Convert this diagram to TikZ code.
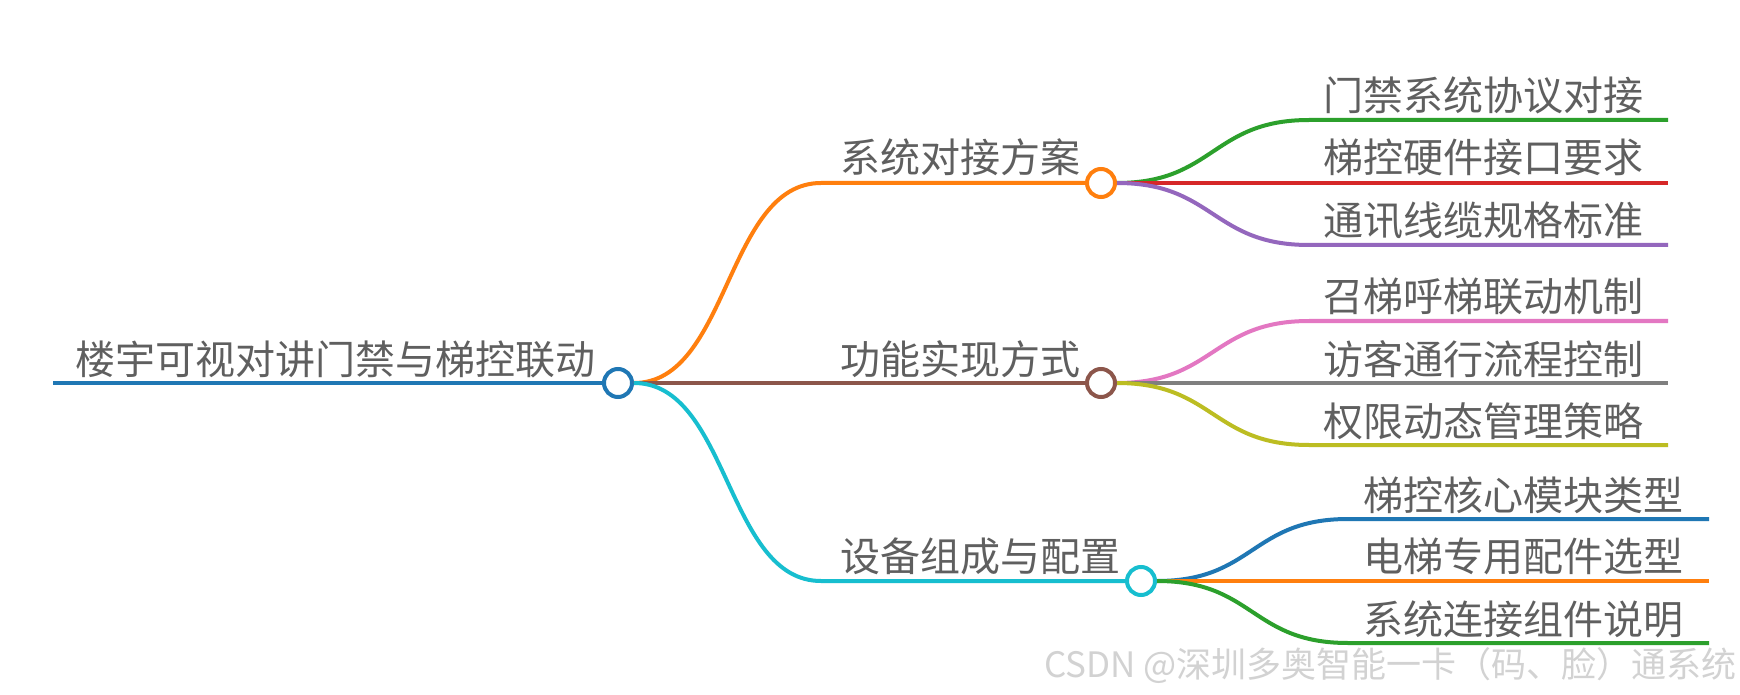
\documentclass[tikz,border=0pt]{standalone}
\usepackage{fontspec}
\setmainfont{Noto Sans CJK SC}
\usepackage{xcolor}
\usepackage{tikz}
\definecolor{mapblue}{HTML}{1F77B4}
\definecolor{maporange}{HTML}{FF7F0E}
\definecolor{mapgreen}{HTML}{2CA02C}
\definecolor{mapred}{HTML}{D62728}
\definecolor{mappurple}{HTML}{9467BD}
\definecolor{mapbrown}{HTML}{8C564B}
\definecolor{mappink}{HTML}{E377C2}
\definecolor{mapgray}{HTML}{7F7F7F}
\definecolor{mapolive}{HTML}{BCBD22}
\definecolor{mapcyan}{HTML}{17BECF}
\definecolor{labelgray}{HTML}{5F5F5F}
\definecolor{markgray}{HTML}{D2D2D2}

\tikzset{
  hub/.style={circle, draw, fill=white, line width=2pt, minimum size=14pt, inner sep=0pt},
  topic/.style={anchor=base west, inner sep=0pt, text=labelgray, font=\fontsize{20}{20}\selectfont},
  link/.style={line width=2pt},
}

\begin{document}
\begin{tikzpicture}[x=0.5pt, y=-0.5pt]
    \path[fill=white, use as bounding box] (0,0) rectangle (1740,695);

    % root
    \coordinate (rootstart) at (53,383);
    \node[hub, draw=mapblue] (root) at (618,383) {};
    \node[topic] (roottext) at (75,374) {楼宇可视对讲门禁与梯控联动};
    \draw[link, mapblue] (rootstart) -- (root.west);

    % first level
    \node[hub, draw=maporange] (sys) at (1101,183) {};
    \node[hub, draw=mapbrown] (fun) at (1101,383) {};
    \node[hub, draw=mapcyan] (dev) at (1141,581) {};
    \coordinate (sysin) at (821,183);
    \coordinate (devin) at (821,581);
    \node[topic] (systext) at (840,173) {系统对接方案};
    \node[topic] (funtext) at (840,374) {功能实现方式};
    \node[topic] (devtext) at (840,571) {设备组成与配置};

    \draw[link, maporange] (root.east) .. controls +(95,0) and +(-95,0) .. (sysin) -- (sys.west);
    \draw[link, mapbrown] (root.east) -- (fun.west);
    \draw[link, mapcyan] (root.east) .. controls +(95,0) and +(-95,0) .. (devin) -- (dev.west);

    % leaves of sys
    \coordinate (s1) at (1309,120);
    \coordinate (s3) at (1309,245);
    \coordinate (s1end) at (1668,120);
    \coordinate (s2end) at (1668,183);
    \coordinate (s3end) at (1668,245);
    \node[topic] (s1text) at (1323,111) {门禁系统协议对接};
    \node[topic] (s2text) at (1323,173) {梯控硬件接口要求};
    \node[topic] (s3text) at (1323,236) {通讯线缆规格标准};
    \draw[link, mapgreen] (sys.east) .. controls +(97,0) and +(-97,0) .. (s1) -- (s1end);
    \draw[link, mapred] (sys.east) -- (s2end);
    \draw[link, mappurple] (sys.east) .. controls +(97,0) and +(-97,0) .. (s3) -- (s3end);

    % leaves of fun
    \coordinate (f1) at (1309,321);
    \coordinate (f3) at (1309,445);
    \coordinate (f1end) at (1668,321);
    \coordinate (f2end) at (1668,383);
    \coordinate (f3end) at (1668,445);
    \node[topic] (f1text) at (1323,312) {召梯呼梯联动机制};
    \node[topic] (f2text) at (1323,374) {访客通行流程控制};
    \node[topic] (f3text) at (1323,436) {权限动态管理策略};
    \draw[link, mappink] (fun.east) .. controls +(97,0) and +(-97,0) .. (f1) -- (f1end);
    \draw[link, mapgray] (fun.east) -- (f2end);
    \draw[link, mapolive] (fun.east) .. controls +(97,0) and +(-97,0) .. (f3) -- (f3end);

    % leaves of dev
    \coordinate (d1) at (1348,519);
    \coordinate (d3) at (1348,643);
    \coordinate (d1end) at (1709,519);
    \coordinate (d2end) at (1709,581);
    \coordinate (d3end) at (1709,643);
    \node[topic] (d1text) at (1363,510) {梯控核心模块类型};
    \node[topic] (d2text) at (1363,571) {电梯专用配件选型};
    \node[topic] (d3text) at (1363,634) {系统连接组件说明};
    \draw[link, mapblue] (dev.east) .. controls +(97,0) and +(-97,0) .. (d1) -- (d1end);
    \draw[link, maporange] (dev.east) -- (d2end);
    \draw[link, mapgreen] (dev.east) .. controls +(97,0) and +(-97,0) .. (d3) -- (d3end);

    % watermark
    \node[anchor=east, inner sep=0pt, text=markgray, font=\fontsize{17.5}{17.5}\selectfont] (mark) at (1737,666) {CSDN @深圳多奥智能一卡（码、脸）通系统};
\end{tikzpicture}
\end{document}
